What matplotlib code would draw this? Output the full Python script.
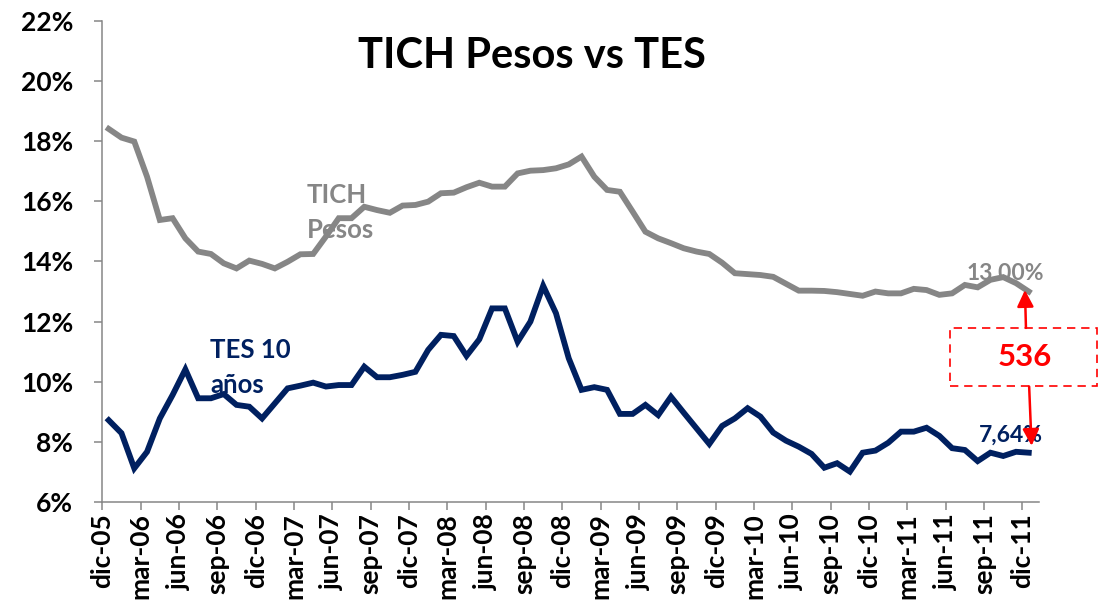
import numpy as np
import matplotlib
matplotlib.use('Agg')
import matplotlib.pyplot as plt
from matplotlib.patches import Rectangle

plt.rcParams['font.family'] = ['Lato', 'DejaVu Sans']
plt.rcParams['font.weight'] = 'bold'

# --- # monthly data, dic-05 .. dic-11 (one value per month)
tich = [18.41, 18.12, 17.99, 16.82, 15.38, 15.44, 14.77, 14.33, 14.25, 13.94,
        13.77, 14.03, 13.92, 13.77, 13.99, 14.24, 14.25, 14.83, 15.44, 15.44,
        15.82, 15.71, 15.62, 15.86, 15.88, 15.99, 16.27, 16.29, 16.47, 16.62,
        16.49, 16.49, 16.93, 17.02, 17.04, 17.10, 17.23, 17.49, 16.82, 16.38,
        16.32, 15.66, 14.99, 14.77, 14.61, 14.44, 14.33, 14.25, 13.96, 13.61,
        13.58, 13.55, 13.49, 13.26, 13.03, 13.03, 13.02, 12.98, 12.92, 12.86,
        13.00, 12.94, 12.94, 13.09, 13.05, 12.89, 12.94, 13.22, 13.14, 13.39,
        13.48, 13.28, 13.00]
tes10 = [8.72, 8.29, 7.12, 7.67, 8.78, 9.56, 10.41, 9.45, 9.45, 9.59,
         9.23, 9.17, 8.78, 9.28, 9.78, 9.87, 9.97, 9.84, 9.89, 9.89,
         10.50, 10.15, 10.15, 10.23, 10.33, 11.06, 11.56, 11.52, 10.86, 11.41,
         12.44, 12.44, 11.33, 12.00, 13.19, 12.28, 10.78, 9.73, 9.82, 9.73,
         8.93, 8.93, 9.23, 8.89, 9.50, 8.97, 8.45, 7.93, 8.53, 8.78,
         9.12, 8.84, 8.31, 8.04, 7.84, 7.60, 7.14, 7.29, 7.01, 7.64,
         7.71, 7.97, 8.34, 8.34, 8.47, 8.20, 7.79, 7.73, 7.36, 7.64,
         7.53, 7.67, 7.64]
tick_labels = ['dic-05', 'mar-06', 'jun-06', 'sep-06', 'dic-06', 'mar-07', 'jun-07',
               'sep-07', 'dic-07', 'mar-08', 'jun-08', 'sep-08', 'dic-08', 'mar-09',
               'jun-09', 'sep-09', 'dic-09', 'mar-10', 'jun-10', 'sep-10', 'dic-10',
               'mar-11', 'jun-11', 'sep-11', 'dic-11']
spread_bps = 536

GRAY = '#868686'
NAVY = '#002060'
RED = '#FF0000'

# points sit in the middle of each month, ticks at month start
x = np.arange(len(tich)) + 0.5

fig = plt.figure(figsize=(10.99, 6.03), dpi=100)
ax = fig.add_axes([0.0931, 0.1675, 0.8523, 0.7977])

ax.plot(x, tich, color=GRAY, lw=4.2, solid_joinstyle='miter')
ax.plot(x, tes10, color=NAVY, lw=4.2, solid_joinstyle='miter')

ax.set_xlim(0, 73.3)
ax.set_ylim(6, 22)
ax.set_xticks(np.arange(0, 3 * len(tick_labels), 3))
ax.set_xticklabels(tick_labels, rotation=90, fontsize=19, fontweight='bold')
ax.set_yticks(np.arange(6, 23, 2))
ax.set_yticklabels(['%d%%' % v for v in range(6, 23, 2)], fontsize=19, fontweight='bold')
ax.tick_params(axis='x', length=6, width=1.1, color=GRAY, pad=2)
ax.tick_params(axis='y', length=6, width=1.1, color=GRAY, pad=15)

for s in ['top', 'right']:
    ax.spines[s].set_visible(False)
for s in ['left', 'bottom']:
    ax.spines[s].set_color(GRAY)
    ax.spines[s].set_linewidth(1.1)

fig.text(0.484, 0.887, 'TICH Pesos vs TES', ha='center', va='baseline',
         fontsize=30, fontweight='bold', color='black')

# --- # series labels
ax.text(16.0, 15.96, 'TICH', color=GRAY, fontsize=18.5, fontweight='bold', va='baseline')
ax.text(16.0, 14.77, 'Pesos', color=GRAY, fontsize=18.5, fontweight='bold', va='baseline')
ax.text(8.43, 10.78, 'TES 10', color=NAVY, fontsize=18.5, fontweight='bold', va='baseline')
ax.text(8.43, 9.64, 'años', color=NAVY, fontsize=18.5, fontweight='bold', va='baseline')

ax.text(67.6, 13.39, '%.2f%%' % tich[-1], color=GRAY, fontsize=16.5, fontweight='bold',
        va='baseline')
ax.text(68.6, 8.01, ('%.2f%%' % tes10[-1]).replace('.', ','), color=NAVY, fontsize=16.5,
        fontweight='bold', va='baseline')

# --- # spread box and arrows
box = Rectangle((66.32, 9.86), 11.5, 1.92, fill=False, ec=RED, lw=1.2,
                ls=(0, (5, 3.5)), clip_on=False)
ax.add_patch(box)
ax.text(72.2, 10.82, str(spread_bps), color=RED, fontsize=22.5, fontweight='bold',
        ha='center', va='center')
ax.annotate('', xy=(72.2, 13.05), xytext=(72.28, 11.79), annotation_clip=False,
            arrowprops=dict(arrowstyle='-|>', color=RED, lw=1.8, mutation_scale=25,
                            shrinkA=0, shrinkB=0))
ax.annotate('', xy=(72.72, 7.87), xytext=(72.53, 9.84), annotation_clip=False,
            arrowprops=dict(arrowstyle='-|>', color=RED, lw=1.8, mutation_scale=25,
                            shrinkA=0, shrinkB=0))

fig.savefig('out.png', dpi=100)
